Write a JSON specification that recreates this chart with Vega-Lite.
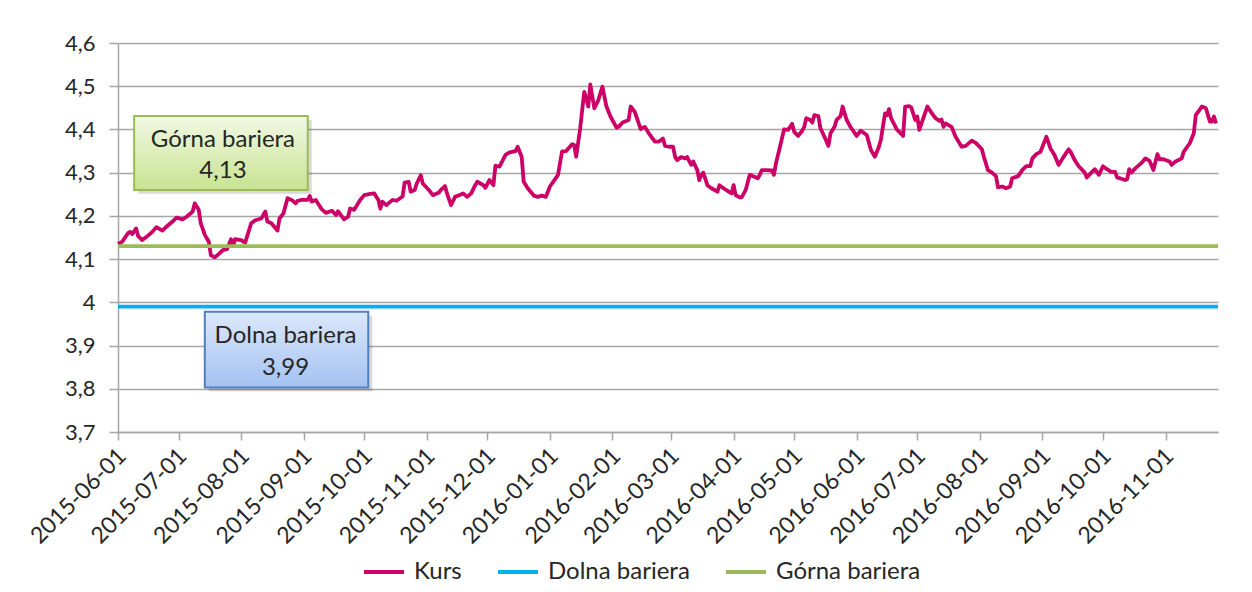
{
 "$schema": "https://vega.github.io/schema/vega-lite/v6.json",
 "width": 1100,
 "height": 389,
 "autosize": {"type": "none"},
 "padding": {"left": 118, "top": 43, "right": 34, "bottom": 160},
 "background": "#ffffff",
 "config": {"view": {"stroke": null}, "font": "Lato"},
 "datasets": {
  "series": [
   {"d":"2015-06-01","v":4.135,"s":"Kurs"},{"d":"2015-06-03","v":4.14,"s":"Kurs"},{"d":"2015-06-06","v":4.16,"s":"Kurs"},{"d":"2015-06-07","v":4.163,"s":"Kurs"},{"d":"2015-06-08","v":4.158,"s":"Kurs"},{"d":"2015-06-10","v":4.171,"s":"Kurs"},{"d":"2015-06-11","v":4.153,"s":"Kurs"},{"d":"2015-06-13","v":4.144,"s":"Kurs"},{"d":"2015-06-15","v":4.151,"s":"Kurs"},{"d":"2015-06-18","v":4.163,"s":"Kurs"},{"d":"2015-06-20","v":4.174,"s":"Kurs"},{"d":"2015-06-23","v":4.166,"s":"Kurs"},{"d":"2015-06-25","v":4.175,"s":"Kurs"},{"d":"2015-06-28","v":4.187,"s":"Kurs"},{"d":"2015-06-30","v":4.196,"s":"Kurs"},
   {"d":"2015-07-03","v":4.192,"s":"Kurs"},{"d":"2015-07-05","v":4.198,"s":"Kurs"},{"d":"2015-07-08","v":4.21,"s":"Kurs"},{"d":"2015-07-09","v":4.229,"s":"Kurs"},{"d":"2015-07-11","v":4.214,"s":"Kurs"},{"d":"2015-07-12","v":4.183,"s":"Kurs"},{"d":"2015-07-14","v":4.156,"s":"Kurs"},{"d":"2015-07-16","v":4.14,"s":"Kurs"},{"d":"2015-07-17","v":4.109,"s":"Kurs"},{"d":"2015-07-19","v":4.104,"s":"Kurs"},{"d":"2015-07-21","v":4.112,"s":"Kurs"},{"d":"2015-07-23","v":4.121,"s":"Kurs"},{"d":"2015-07-25","v":4.123,"s":"Kurs"},{"d":"2015-07-27","v":4.146,"s":"Kurs"},{"d":"2015-07-28","v":4.13,"s":"Kurs"},{"d":"2015-07-29","v":4.146,"s":"Kurs"},
   {"d":"2015-08-01","v":4.144,"s":"Kurs"},{"d":"2015-08-03","v":4.138,"s":"Kurs"},{"d":"2015-08-06","v":4.183,"s":"Kurs"},{"d":"2015-08-08","v":4.19,"s":"Kurs"},{"d":"2015-08-11","v":4.194,"s":"Kurs"},{"d":"2015-08-13","v":4.21,"s":"Kurs"},{"d":"2015-08-14","v":4.187,"s":"Kurs"},{"d":"2015-08-16","v":4.183,"s":"Kurs"},{"d":"2015-08-19","v":4.166,"s":"Kurs"},{"d":"2015-08-20","v":4.194,"s":"Kurs"},{"d":"2015-08-22","v":4.206,"s":"Kurs"},{"d":"2015-08-24","v":4.241,"s":"Kurs"},{"d":"2015-08-26","v":4.237,"s":"Kurs"},{"d":"2015-08-28","v":4.229,"s":"Kurs"},{"d":"2015-08-29","v":4.235,"s":"Kurs"},{"d":"2015-08-31","v":4.237,"s":"Kurs"},
   {"d":"2015-09-03","v":4.237,"s":"Kurs"},{"d":"2015-09-04","v":4.246,"s":"Kurs"},{"d":"2015-09-05","v":4.233,"s":"Kurs"},{"d":"2015-09-07","v":4.237,"s":"Kurs"},{"d":"2015-09-10","v":4.215,"s":"Kurs"},{"d":"2015-09-12","v":4.207,"s":"Kurs"},{"d":"2015-09-15","v":4.212,"s":"Kurs"},{"d":"2015-09-17","v":4.202,"s":"Kurs"},{"d":"2015-09-18","v":4.211,"s":"Kurs"},{"d":"2015-09-21","v":4.192,"s":"Kurs"},{"d":"2015-09-23","v":4.198,"s":"Kurs"},{"d":"2015-09-24","v":4.217,"s":"Kurs"},{"d":"2015-09-26","v":4.214,"s":"Kurs"},{"d":"2015-09-29","v":4.237,"s":"Kurs"},
   {"d":"2015-10-01","v":4.248,"s":"Kurs"},{"d":"2015-10-04","v":4.251,"s":"Kurs"},{"d":"2015-10-06","v":4.252,"s":"Kurs"},{"d":"2015-10-08","v":4.237,"s":"Kurs"},{"d":"2015-10-09","v":4.217,"s":"Kurs"},{"d":"2015-10-10","v":4.233,"s":"Kurs"},{"d":"2015-10-12","v":4.225,"s":"Kurs"},{"d":"2015-10-15","v":4.237,"s":"Kurs"},{"d":"2015-10-17","v":4.235,"s":"Kurs"},{"d":"2015-10-20","v":4.245,"s":"Kurs"},{"d":"2015-10-21","v":4.277,"s":"Kurs"},{"d":"2015-10-23","v":4.279,"s":"Kurs"},{"d":"2015-10-24","v":4.256,"s":"Kurs"},{"d":"2015-10-26","v":4.26,"s":"Kurs"},{"d":"2015-10-27","v":4.275,"s":"Kurs"},{"d":"2015-10-29","v":4.294,"s":"Kurs"},{"d":"2015-10-30","v":4.275,"s":"Kurs"},
   {"d":"2015-11-02","v":4.26,"s":"Kurs"},{"d":"2015-11-04","v":4.248,"s":"Kurs"},{"d":"2015-11-07","v":4.254,"s":"Kurs"},{"d":"2015-11-08","v":4.26,"s":"Kurs"},{"d":"2015-11-10","v":4.269,"s":"Kurs"},{"d":"2015-11-11","v":4.252,"s":"Kurs"},{"d":"2015-11-13","v":4.225,"s":"Kurs"},{"d":"2015-11-15","v":4.244,"s":"Kurs"},{"d":"2015-11-17","v":4.248,"s":"Kurs"},{"d":"2015-11-19","v":4.252,"s":"Kurs"},{"d":"2015-11-21","v":4.244,"s":"Kurs"},{"d":"2015-11-23","v":4.252,"s":"Kurs"},{"d":"2015-11-25","v":4.271,"s":"Kurs"},{"d":"2015-11-26","v":4.279,"s":"Kurs"},{"d":"2015-11-29","v":4.271,"s":"Kurs"},{"d":"2015-11-30","v":4.265,"s":"Kurs"},
   {"d":"2015-12-02","v":4.283,"s":"Kurs"},{"d":"2015-12-04","v":4.271,"s":"Kurs"},{"d":"2015-12-05","v":4.316,"s":"Kurs"},{"d":"2015-12-07","v":4.314,"s":"Kurs"},{"d":"2015-12-10","v":4.341,"s":"Kurs"},{"d":"2015-12-12","v":4.347,"s":"Kurs"},{"d":"2015-12-15","v":4.35,"s":"Kurs"},{"d":"2015-12-16","v":4.36,"s":"Kurs"},{"d":"2015-12-18","v":4.337,"s":"Kurs"},{"d":"2015-12-19","v":4.279,"s":"Kurs"},{"d":"2015-12-21","v":4.264,"s":"Kurs"},{"d":"2015-12-24","v":4.247,"s":"Kurs"},{"d":"2015-12-26","v":4.244,"s":"Kurs"},{"d":"2015-12-28","v":4.247,"s":"Kurs"},{"d":"2015-12-30","v":4.244,"s":"Kurs"},
   {"d":"2016-01-01","v":4.268,"s":"Kurs"},{"d":"2016-01-05","v":4.295,"s":"Kurs"},{"d":"2016-01-07","v":4.349,"s":"Kurs"},{"d":"2016-01-09","v":4.35,"s":"Kurs"},{"d":"2016-01-12","v":4.366,"s":"Kurs"},{"d":"2016-01-13","v":4.364,"s":"Kurs"},{"d":"2016-01-14","v":4.337,"s":"Kurs"},{"d":"2016-01-16","v":4.403,"s":"Kurs"},{"d":"2016-01-18","v":4.487,"s":"Kurs"},{"d":"2016-01-20","v":4.453,"s":"Kurs"},{"d":"2016-01-21","v":4.504,"s":"Kurs"},{"d":"2016-01-23","v":4.449,"s":"Kurs"},{"d":"2016-01-25","v":4.468,"s":"Kurs"},{"d":"2016-01-27","v":4.499,"s":"Kurs"},{"d":"2016-01-29","v":4.453,"s":"Kurs"},{"d":"2016-01-31","v":4.43,"s":"Kurs"},
   {"d":"2016-02-03","v":4.404,"s":"Kurs"},{"d":"2016-02-04","v":4.406,"s":"Kurs"},{"d":"2016-02-06","v":4.416,"s":"Kurs"},{"d":"2016-02-09","v":4.422,"s":"Kurs"},{"d":"2016-02-10","v":4.453,"s":"Kurs"},{"d":"2016-02-12","v":4.441,"s":"Kurs"},{"d":"2016-02-14","v":4.414,"s":"Kurs"},{"d":"2016-02-15","v":4.401,"s":"Kurs"},{"d":"2016-02-17","v":4.406,"s":"Kurs"},{"d":"2016-02-19","v":4.391,"s":"Kurs"},{"d":"2016-02-22","v":4.372,"s":"Kurs"},{"d":"2016-02-24","v":4.372,"s":"Kurs"},{"d":"2016-02-26","v":4.379,"s":"Kurs"},{"d":"2016-02-27","v":4.362,"s":"Kurs"},{"d":"2016-02-29","v":4.36,"s":"Kurs"},
   {"d":"2016-03-02","v":4.36,"s":"Kurs"},{"d":"2016-03-03","v":4.337,"s":"Kurs"},{"d":"2016-03-04","v":4.329,"s":"Kurs"},{"d":"2016-03-06","v":4.336,"s":"Kurs"},{"d":"2016-03-08","v":4.333,"s":"Kurs"},{"d":"2016-03-09","v":4.336,"s":"Kurs"},{"d":"2016-03-11","v":4.318,"s":"Kurs"},{"d":"2016-03-12","v":4.326,"s":"Kurs"},{"d":"2016-03-14","v":4.306,"s":"Kurs"},{"d":"2016-03-15","v":4.283,"s":"Kurs"},{"d":"2016-03-16","v":4.295,"s":"Kurs"},{"d":"2016-03-17","v":4.3,"s":"Kurs"},{"d":"2016-03-19","v":4.271,"s":"Kurs"},{"d":"2016-03-21","v":4.264,"s":"Kurs"},{"d":"2016-03-24","v":4.256,"s":"Kurs"},{"d":"2016-03-25","v":4.271,"s":"Kurs"},{"d":"2016-03-27","v":4.264,"s":"Kurs"},{"d":"2016-03-29","v":4.258,"s":"Kurs"},{"d":"2016-03-31","v":4.252,"s":"Kurs"},
   {"d":"2016-04-01","v":4.271,"s":"Kurs"},{"d":"2016-04-02","v":4.248,"s":"Kurs"},{"d":"2016-04-04","v":4.243,"s":"Kurs"},{"d":"2016-04-05","v":4.243,"s":"Kurs"},{"d":"2016-04-07","v":4.26,"s":"Kurs"},{"d":"2016-04-09","v":4.295,"s":"Kurs"},{"d":"2016-04-11","v":4.291,"s":"Kurs"},{"d":"2016-04-13","v":4.287,"s":"Kurs"},{"d":"2016-04-14","v":4.295,"s":"Kurs"},{"d":"2016-04-15","v":4.306,"s":"Kurs"},{"d":"2016-04-17","v":4.306,"s":"Kurs"},{"d":"2016-04-20","v":4.305,"s":"Kurs"},{"d":"2016-04-21","v":4.295,"s":"Kurs"},{"d":"2016-04-22","v":4.322,"s":"Kurs"},{"d":"2016-04-24","v":4.36,"s":"Kurs"},{"d":"2016-04-26","v":4.4,"s":"Kurs"},{"d":"2016-04-28","v":4.399,"s":"Kurs"},{"d":"2016-04-30","v":4.413,"s":"Kurs"},
   {"d":"2016-05-01","v":4.395,"s":"Kurs"},{"d":"2016-05-03","v":4.385,"s":"Kurs"},{"d":"2016-05-05","v":4.397,"s":"Kurs"},{"d":"2016-05-06","v":4.406,"s":"Kurs"},{"d":"2016-05-07","v":4.426,"s":"Kurs"},{"d":"2016-05-09","v":4.422,"s":"Kurs"},{"d":"2016-05-10","v":4.416,"s":"Kurs"},{"d":"2016-05-11","v":4.433,"s":"Kurs"},{"d":"2016-05-13","v":4.431,"s":"Kurs"},{"d":"2016-05-14","v":4.403,"s":"Kurs"},{"d":"2016-05-16","v":4.383,"s":"Kurs"},{"d":"2016-05-18","v":4.362,"s":"Kurs"},{"d":"2016-05-19","v":4.391,"s":"Kurs"},{"d":"2016-05-21","v":4.406,"s":"Kurs"},{"d":"2016-05-22","v":4.422,"s":"Kurs"},{"d":"2016-05-24","v":4.431,"s":"Kurs"},{"d":"2016-05-25","v":4.453,"s":"Kurs"},{"d":"2016-05-27","v":4.422,"s":"Kurs"},{"d":"2016-05-29","v":4.405,"s":"Kurs"},
   {"d":"2016-06-01","v":4.385,"s":"Kurs"},{"d":"2016-06-03","v":4.397,"s":"Kurs"},{"d":"2016-06-06","v":4.387,"s":"Kurs"},{"d":"2016-06-08","v":4.353,"s":"Kurs"},{"d":"2016-06-10","v":4.337,"s":"Kurs"},{"d":"2016-06-12","v":4.36,"s":"Kurs"},{"d":"2016-06-13","v":4.377,"s":"Kurs"},{"d":"2016-06-15","v":4.437,"s":"Kurs"},{"d":"2016-06-16","v":4.433,"s":"Kurs"},{"d":"2016-06-17","v":4.447,"s":"Kurs"},{"d":"2016-06-18","v":4.426,"s":"Kurs"},{"d":"2016-06-21","v":4.399,"s":"Kurs"},{"d":"2016-06-22","v":4.395,"s":"Kurs"},{"d":"2016-06-24","v":4.385,"s":"Kurs"},{"d":"2016-06-25","v":4.453,"s":"Kurs"},{"d":"2016-06-27","v":4.454,"s":"Kurs"},{"d":"2016-06-28","v":4.451,"s":"Kurs"},{"d":"2016-06-30","v":4.422,"s":"Kurs"},
   {"d":"2016-07-01","v":4.43,"s":"Kurs"},{"d":"2016-07-02","v":4.399,"s":"Kurs"},{"d":"2016-07-04","v":4.426,"s":"Kurs"},{"d":"2016-07-06","v":4.453,"s":"Kurs"},{"d":"2016-07-08","v":4.439,"s":"Kurs"},{"d":"2016-07-10","v":4.426,"s":"Kurs"},{"d":"2016-07-12","v":4.42,"s":"Kurs"},{"d":"2016-07-13","v":4.423,"s":"Kurs"},{"d":"2016-07-14","v":4.406,"s":"Kurs"},{"d":"2016-07-15","v":4.414,"s":"Kurs"},{"d":"2016-07-18","v":4.406,"s":"Kurs"},{"d":"2016-07-20","v":4.383,"s":"Kurs"},{"d":"2016-07-23","v":4.36,"s":"Kurs"},{"d":"2016-07-25","v":4.362,"s":"Kurs"},{"d":"2016-07-28","v":4.374,"s":"Kurs"},{"d":"2016-07-30","v":4.369,"s":"Kurs"},
   {"d":"2016-08-02","v":4.354,"s":"Kurs"},{"d":"2016-08-03","v":4.337,"s":"Kurs"},{"d":"2016-08-05","v":4.306,"s":"Kurs"},{"d":"2016-08-07","v":4.3,"s":"Kurs"},{"d":"2016-08-09","v":4.292,"s":"Kurs"},{"d":"2016-08-10","v":4.266,"s":"Kurs"},{"d":"2016-08-12","v":4.268,"s":"Kurs"},{"d":"2016-08-14","v":4.264,"s":"Kurs"},{"d":"2016-08-16","v":4.268,"s":"Kurs"},{"d":"2016-08-17","v":4.287,"s":"Kurs"},{"d":"2016-08-20","v":4.292,"s":"Kurs"},{"d":"2016-08-22","v":4.306,"s":"Kurs"},{"d":"2016-08-24","v":4.315,"s":"Kurs"},{"d":"2016-08-26","v":4.315,"s":"Kurs"},{"d":"2016-08-27","v":4.333,"s":"Kurs"},{"d":"2016-08-29","v":4.343,"s":"Kurs"},{"d":"2016-08-31","v":4.348,"s":"Kurs"},
   {"d":"2016-09-03","v":4.383,"s":"Kurs"},{"d":"2016-09-05","v":4.356,"s":"Kurs"},{"d":"2016-09-07","v":4.341,"s":"Kurs"},{"d":"2016-09-09","v":4.318,"s":"Kurs"},{"d":"2016-09-11","v":4.333,"s":"Kurs"},{"d":"2016-09-14","v":4.354,"s":"Kurs"},{"d":"2016-09-15","v":4.348,"s":"Kurs"},{"d":"2016-09-17","v":4.329,"s":"Kurs"},{"d":"2016-09-19","v":4.315,"s":"Kurs"},{"d":"2016-09-22","v":4.3,"s":"Kurs"},{"d":"2016-09-23","v":4.289,"s":"Kurs"},{"d":"2016-09-25","v":4.299,"s":"Kurs"},{"d":"2016-09-27","v":4.308,"s":"Kurs"},{"d":"2016-09-29","v":4.295,"s":"Kurs"},
   {"d":"2016-10-01","v":4.315,"s":"Kurs"},{"d":"2016-10-03","v":4.308,"s":"Kurs"},{"d":"2016-10-05","v":4.302,"s":"Kurs"},{"d":"2016-10-07","v":4.302,"s":"Kurs"},{"d":"2016-10-08","v":4.289,"s":"Kurs"},{"d":"2016-10-12","v":4.283,"s":"Kurs"},{"d":"2016-10-13","v":4.285,"s":"Kurs"},{"d":"2016-10-14","v":4.308,"s":"Kurs"},{"d":"2016-10-15","v":4.3,"s":"Kurs"},{"d":"2016-10-17","v":4.31,"s":"Kurs"},{"d":"2016-10-20","v":4.322,"s":"Kurs"},{"d":"2016-10-22","v":4.333,"s":"Kurs"},{"d":"2016-10-24","v":4.328,"s":"Kurs"},{"d":"2016-10-26","v":4.306,"s":"Kurs"},{"d":"2016-10-28","v":4.343,"s":"Kurs"},{"d":"2016-10-29","v":4.331,"s":"Kurs"},{"d":"2016-10-31","v":4.331,"s":"Kurs"},
   {"d":"2016-11-03","v":4.326,"s":"Kurs"},{"d":"2016-11-04","v":4.318,"s":"Kurs"},{"d":"2016-11-06","v":4.326,"s":"Kurs"},{"d":"2016-11-09","v":4.333,"s":"Kurs"},{"d":"2016-11-10","v":4.348,"s":"Kurs"},{"d":"2016-11-13","v":4.368,"s":"Kurs"},{"d":"2016-11-15","v":4.391,"s":"Kurs"},{"d":"2016-11-16","v":4.433,"s":"Kurs"},{"d":"2016-11-19","v":4.453,"s":"Kurs"},{"d":"2016-11-21","v":4.449,"s":"Kurs"},{"d":"2016-11-23","v":4.418,"s":"Kurs"},{"d":"2016-11-24","v":4.418,"s":"Kurs"},{"d":"2016-11-25","v":4.43,"s":"Kurs"},{"d":"2016-11-26","v":4.414,"s":"Kurs"},
   {"d":"2015-06-01","v":3.99,"s":"Dolna bariera"},{"d":"2016-11-27","v":3.99,"s":"Dolna bariera"},
   {"d":"2015-06-01","v":4.13,"s":"Górna bariera"},{"d":"2016-11-27","v":4.13,"s":"Górna bariera"}
  ],
  "labels": [
   {"t":"Górna bariera","d":"2015-07-23","v":4.359},
   {"t":"4,13","d":"2015-07-23","v":4.288},
   {"t":"Dolna bariera","d":"2015-08-23","v":3.906},
   {"t":"3,99","d":"2015-08-23","v":3.832}
  ],
  "one": [{"k": 1}]
 },
 "layer": [
  {
   "data": {"name": "series"},
   "mark": {"type": "line", "strokeWidth": 3.8, "strokeJoin": "round"},
   "encoding": {
    "x": {"field": "d", "type": "temporal",
     "scale": {"type": "utc", "domain": [{"year": 2015, "month": 6, "date": 1, "utc": true}, {"year": 2016, "month": 11, "date": 27, "utc": true}]},
     "axis": {"title": null, "format": "%Y-%m-%d", "tickCount": {"interval": "month", "step": 1}, "labelAngle": -45, "labelAlign": "right", "labelBaseline": "middle", "labelFont": "Lato", "labelFontSize": 23, "labelColor": "#262626", "labelPadding": 12, "labelOffset": 4, "labelOverlap": false, "labelFlush": false, "grid": false, "domainColor": "#a6a6a6", "domainWidth": 1.5, "tickColor": "#a6a6a6", "tickWidth": 1.5, "tickSize": 8}},
    "y": {"field": "v", "type": "quantitative",
     "scale": {"domain": [3.7, 4.6], "zero": false, "nice": false},
     "axis": {"title": null, "values": [3.7, 3.8, 3.9, 4.0, 4.1, 4.2, 4.3, 4.4, 4.5, 4.6], "labelExpr": "replace(format(datum.value, '.1~f'), '.', ',')", "labelFont": "Lato", "labelFontSize": 22, "labelColor": "#262626", "labelPadding": 14, "grid": true, "gridColor": "#a6a6a6", "gridWidth": 1.5, "domainColor": "#a6a6a6", "domainWidth": 1.5, "tickColor": "#a6a6a6", "tickWidth": 1.5, "tickSize": 9}},
    "color": {"field": "s", "type": "nominal",
     "scale": {"domain": ["Kurs", "Dolna bariera", "Górna bariera"], "range": ["#CC0066", "#00B0F0", "#9BBB59"]},
     "legend": {"title": null, "orient": "none", "legendX": 244, "legendY": 507, "direction": "horizontal", "symbolType": "stroke", "symbolSize": 1600, "symbolStrokeWidth": 4, "labelFont": "Lato", "labelFontSize": 24, "labelColor": "#262626", "labelLimit": 300, "columnPadding": 28, "labelOffset": 8}}
   }
  },
  {
   "data": {"name": "one"},
   "mark": {"type": "rect", "fill": "#000000", "opacity": 0.15},
   "encoding": {
    "x": {"datum": {"year": 2015, "month": 6, "date": 11, "utc": true}, "type": "temporal"},
    "x2": {"datum": {"year": 2015, "month": 9, "date": 5, "utc": true}},
    "y": {"datum": 4.422, "type": "quantitative"},
    "y2": {"datum": 4.251}
   }
  },
  {
   "data": {"name": "one"},
   "mark": {"type": "rect", "stroke": "#9BBB59", "strokeWidth": 2,
    "fill": {"gradient": "linear", "x1": 0, "y1": 0, "x2": 0, "y2": 1, "stops": [{"offset": 0, "color": "#f2f9e4"}, {"offset": 1, "color": "#c8e390"}]}},
   "encoding": {
    "x": {"datum": {"year": 2015, "month": 6, "date": 9, "utc": true}, "type": "temporal"},
    "x2": {"datum": {"year": 2015, "month": 9, "date": 3, "utc": true}},
    "y": {"datum": 4.431, "type": "quantitative"},
    "y2": {"datum": 4.26}
   }
  },
  {
   "data": {"name": "one"},
   "mark": {"type": "rect", "fill": "#000000", "opacity": 0.15},
   "encoding": {
    "x": {"datum": {"year": 2015, "month": 7, "date": 16, "utc": true}, "type": "temporal"},
    "x2": {"datum": {"year": 2015, "month": 10, "date": 5, "utc": true}},
    "y": {"datum": 3.969, "type": "quantitative"},
    "y2": {"datum": 3.794}
   }
  },
  {
   "data": {"name": "one"},
   "mark": {"type": "rect", "stroke": "#4F81BD", "strokeWidth": 2,
    "fill": {"gradient": "linear", "x1": 0, "y1": 0, "x2": 0, "y2": 1, "stops": [{"offset": 0, "color": "#dce8fa"}, {"offset": 1, "color": "#a4c2f2"}]}},
   "encoding": {
    "x": {"datum": {"year": 2015, "month": 7, "date": 14, "utc": true}, "type": "temporal"},
    "x2": {"datum": {"year": 2015, "month": 10, "date": 3, "utc": true}},
    "y": {"datum": 3.978, "type": "quantitative"},
    "y2": {"datum": 3.803}
   }
  },
  {
   "data": {"name": "labels"},
   "mark": {"type": "text", "align": "center", "baseline": "alphabetic", "font": "Lato", "fontSize": 24, "color": "#262626"},
   "encoding": {
    "x": {"field": "d", "type": "temporal"},
    "y": {"field": "v", "type": "quantitative"},
    "text": {"field": "t"}
   }
  }
 ]
}
